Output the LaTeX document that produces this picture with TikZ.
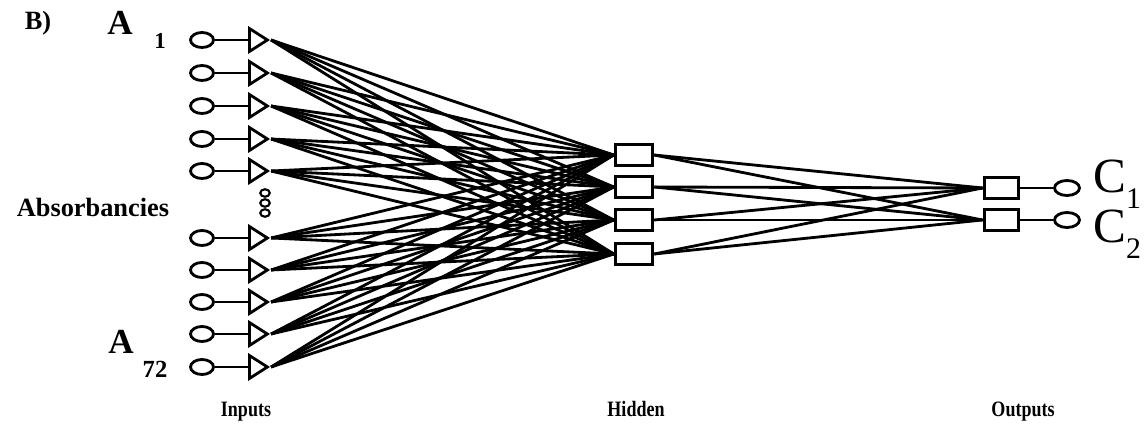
\documentclass[tikz,border=0pt]{standalone}
\usepackage{graphicx}
\usepackage{fontspec}
\setmainfont{Liberation Serif}
\usetikzlibrary{shapes.geometric}

\tikzset{
  inell/.style={ellipse, draw, line width=1.6pt, minimum width=0.46cm, minimum height=0.30cm, inner sep=0pt},
  intri/.style={isosceles triangle, isosceles triangle stretches, draw, line width=1.6pt,
                minimum width=0.46cm, minimum height=0.36cm, inner sep=0pt, anchor=west},
  unitbox/.style={rectangle, draw, line width=1.7pt, inner sep=0pt},
  conn/.style={line width=1.6pt},
  bigbold/.style={font=\bfseries\fontsize{#1}{#1}\selectfont},
  layerlab/.style={bigbold=12.5, anchor=base}
}
\newcommand{\narrow}[1]{\scalebox{0.82}[1]{#1}}

\begin{document}
\begin{tikzpicture}[x=0.02cm, y=-0.02cm]
    \useasboundingbox (0,0) rectangle (1148,431);

    % Input layer
    \foreach \y [count=\i] in {40,73,106,139,171,238,270,302,334,367} {
        \node[inell] (in\i) at (202,\y) {};
        \node[intri] (tr\i) at (248,\y) {};
        \draw[conn] (in\i) -- (tr\i);
    }
    \foreach \y [count=\i] in {193,203,213}
        \node[ellipse, draw, line width=1.2pt, minimum width=0.19cm, minimum height=0.15cm, inner sep=0pt] (dot\i) at (265,\y) {};

    % Hidden layer
    \foreach \y [count=\j] in {155,187,220,254}
        \node[unitbox, minimum width=0.75cm, minimum height=0.41cm] (h\j) at (634,\y) {};

    % Output layer
    \foreach \y [count=\k] in {188,220} {
        \node[unitbox, minimum width=0.68cm, minimum height=0.42cm] (o\k) at (1001,\y) {};
        \node[inell, minimum width=0.50cm] (e\k) at (1067,\y) {};
        \draw[conn] (o\k) -- (e\k);
    }

    % Connections
    \foreach \i in {1,...,10}
        \foreach \j in {1,...,4}
            \draw[conn] (tr\i.apex) -- (h\j.west);
    \foreach \j in {1,...,4}
        \foreach \k in {1,2}
            \draw[conn] (h\j.east) -- (o\k.west);

    % Labels
    \node[bigbold=15] (panel) at (38,23) {B)};
    \node[bigbold=20] (afirst) at (120,23) {A};
    \node[bigbold=13] (one) at (160,41) {1};
    \node[bigbold=15] (absorb) at (93,207) {Absorbancies};
    \node[bigbold=20] (alast) at (121,342) {A};
    \node[bigbold=14] (last) at (155,369) {72};

    \node[font=\fontsize{28}{28}\selectfont, anchor=base west, inner sep=0pt] (c1) at (1093,193)
        {C\raisebox{-0.32em}{\fontsize{17}{17}\selectfont 1}};
    \node[font=\fontsize{28}{28}\selectfont, anchor=base west, inner sep=0pt] (c2) at (1093,243)
        {C\raisebox{-0.32em}{\fontsize{17}{17}\selectfont 2}};

    \node[layerlab] (inlab) at (246,417) {\narrow{Inputs}};
    \node[layerlab] (hidlab) at (636,417) {\narrow{Hidden}};
    \node[layerlab] (outlab) at (1023,417) {\narrow{Outputs}};
\end{tikzpicture}
\end{document}
